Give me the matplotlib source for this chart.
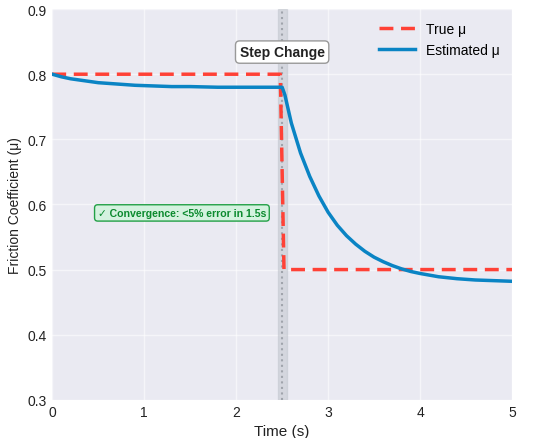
import matplotlib
matplotlib.use('Agg')
import matplotlib.pyplot as plt

# values
time_est = [0.0, 0.1, 0.2, 0.3, 0.4, 0.5, 0.7, 0.9, 1.1, 1.3, 1.5, 1.8, 2.1, 2.4, 2.5,
            2.53, 2.6, 2.7, 2.8, 2.9, 3.0, 3.1, 3.2, 3.3, 3.4, 3.5, 3.6, 3.7, 3.8,
            3.9, 4.0, 4.2, 4.4, 4.6, 4.8, 5.0]
mu_est = [0.800, 0.796, 0.793, 0.791, 0.789, 0.787, 0.785, 0.783, 0.782, 0.781, 0.781, 0.780,
          0.780, 0.780, 0.780, 0.768, 0.725, 0.679, 0.643, 0.613, 0.588, 0.568, 0.552, 0.539,
          0.528, 0.519, 0.512, 0.506, 0.501, 0.497, 0.494, 0.489, 0.486, 0.484, 0.483, 0.482]

time_true = [0.0, 2.48, 2.52, 5.0]
mu_true = [0.8, 0.8, 0.5, 0.5]

step_time = 2.5

plt.rcParams['font.family'] = ['Liberation Sans', 'DejaVu Sans']

fig = plt.figure(figsize=(5.5, 4.39), dpi=100)
ax = fig.add_axes([0.095, 0.087, 0.836, 0.89])
ax.set_facecolor('#EAEAF2')
for s in ax.spines.values():
    s.set_visible(False)
ax.grid(True, color='white', linewidth=1.0, alpha=0.55)
ax.set_axisbelow(True)
ax.tick_params(length=0, labelsize=10, colors='#222222', pad=4)

ax.axvspan(step_time - 0.05, step_time + 0.05, color='#BFC3CB', alpha=0.5, zorder=1)
ax.axvline(step_time, color='#A0A4AC', linestyle=':', linewidth=1.5, zorder=1)

ax.plot(time_true, mu_true, color='#FF4136', linestyle='--', linewidth=2.5,
        dashes=(4, 2.2), label='True μ', zorder=3)
ax.plot(time_est, mu_est, color='#0A84C4', linewidth=2.5, label='Estimated μ', zorder=4)

ax.text(step_time, 0.834, 'Step Change', ha='center', va='center', fontsize=10,
        fontweight='bold', color='#222222', zorder=5,
        bbox=dict(boxstyle='round,pad=0.3', facecolor='white', edgecolor='#999999'))

ax.text(1.41, 0.587, '✓ Convergence: <5% error in 1.5s', ha='center', va='center',
        fontsize=7.6, fontweight='bold', color='#0B8A2E', zorder=5,
        bbox=dict(boxstyle='round,pad=0.3', facecolor='#D4F2DF', edgecolor='#22A046'))

ax.set_xlim(0, 5)
ax.set_ylim(0.3, 0.9)
ax.set_xlabel('Time (s)', fontsize=11, color='#222222', labelpad=3)
ax.set_ylabel('Friction Coefficient (μ)', fontsize=10, color='#222222', labelpad=4)

leg = ax.legend(loc='upper right', fontsize=10, frameon=False, handlelength=2.6)

fig.savefig('out.png', dpi=100)
